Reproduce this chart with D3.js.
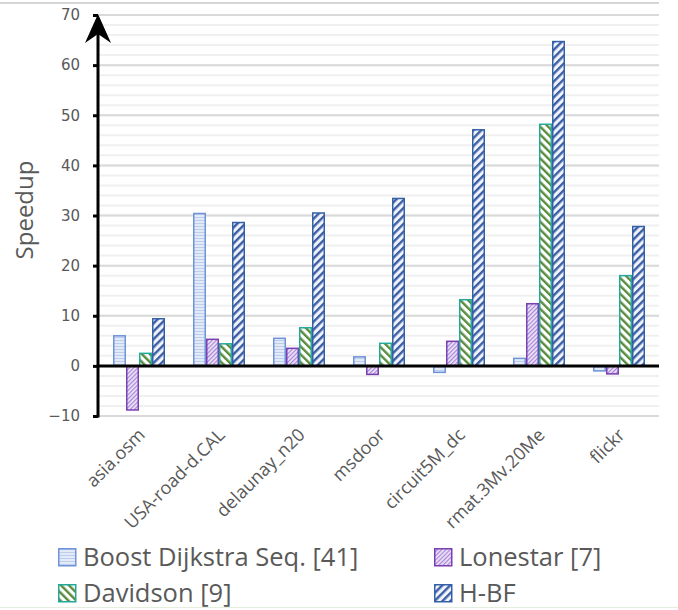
<!DOCTYPE html>
<html>
<head>
<meta charset="utf-8">
<script src="https://cdn.jsdelivr.net/npm/d3@7"></script>
<style>
  body { margin: 0; background: #fff; }
  svg { display: block; }
  .y-axis text { font-family: "DejaVu Sans", sans-serif; font-size: 15px; fill: #595959; }
  .x-label { font-family: "Open Sans", sans-serif; font-size: 18px; fill: #595959; }
  .y-title { font-family: "Open Sans", sans-serif; font-size: 24px; fill: #595959; }
  .legend text { font-family: "Open Sans", sans-serif; font-size: 25.5px; fill: #595959; }
</style>
</head>
<body>
<div id="chart"></div>
<script>
// categories + one array per series
const categories = ['asia.osm', 'USA-road-d.CAL', 'delaunay_n20', 'msdoor', 'circuit5M_dc', 'rmat.3Mv.20Me', 'flickr'];
const seriesNames = ['Boost Dijkstra Seq. [41]', 'Lonestar [7]', 'Davidson [9]', 'H-BF'];
const boostValues = [6.0, 30.4, 5.5, 1.8, -1.3, 1.5, -1.0];
const lonestarValues = [-8.8, 5.3, 3.5, -1.7, 4.9, 12.4, -1.6];
const davidsonValues = [2.5, 4.4, 7.6, 4.5, 13.2, 48.2, 18.0];
const hbfValues = [9.4, 28.6, 30.5, 33.4, 47.1, 64.7, 27.8];
const yTicks = [-10, 0, 10, 20, 30, 40, 50, 60, 70];
const yMinorTicks = [-10, -8, -6, -4, -2, 0, 2, 4, 6, 8, 10, 12, 14, 16, 18, 20, 22, 24, 26, 28,
  30, 32, 34, 36, 38, 40, 42, 44, 46, 48, 50, 52, 54, 56, 58, 60, 62, 64, 66, 68, 70];

// look of each series (same order as seriesNames)
const seriesStyles = [
  { id: 'pat-boost', stroke: '#6f93d8' },
  { id: 'pat-lone', stroke: '#7a3fb0' },
  { id: 'pat-dav', stroke: '#22a99b' },
  { id: 'pat-hbf', stroke: '#3560a8' },
];

class GroupedBarChart {
  constructor(_config) {
    this.config = {
      parentElement: _config.parentElement,
      containerWidth: 678,
      containerHeight: 610,
      plotLeft: 99,
      plotRight: 659,
      plotTop: 15,
      plotBottom: 416,
    };
    this.initVis();
  }

  initVis() {
    const vis = this;
    const c = vis.config;

    vis.svg = d3.select(c.parentElement).append('svg')
      .attr('width', c.containerWidth)
      .attr('height', c.containerHeight);

    vis.makePatterns();

    // frame lines of the screenshot
    vis.svg.append('line')
      .attr('x1', 0).attr('x2', c.plotRight).attr('y1', 3).attr('y2', 3)
      .attr('stroke', '#c8c8c8').attr('stroke-width', 1.5);
    vis.svg.append('line')
      .attr('x1', 0).attr('x2', c.containerWidth).attr('y1', 607.5).attr('y2', 607.5)
      .attr('stroke', '#e3efdc').attr('stroke-width', 1);

    vis.xScale = d3.scaleBand()
      .domain(categories)
      .range([c.plotLeft, c.plotRight])
      .paddingInner(0.35)
      .paddingOuter(0.175);
    vis.xInner = d3.scaleBand()
      .domain(seriesNames)
      .range([0, vis.xScale.bandwidth()]);
    vis.yScale = d3.scaleLinear()
      .domain([-10, 70])
      .range([c.plotBottom, c.plotTop]);

    vis.gridGroup = vis.svg.append('g').attr('class', 'grid');
    vis.barGroup = vis.svg.append('g').attr('class', 'bars');
    vis.axisGroup = vis.svg.append('g').attr('class', 'y-axis')
      .attr('transform', `translate(${c.plotLeft - 1},0)`);
    vis.labelGroup = vis.svg.append('g').attr('class', 'x-labels');
    vis.legendGroup = vis.svg.append('g').attr('class', 'legend');

    vis.updateVis();
  }

  makePatterns() {
    const vis = this;
    const defs = vis.svg.append('defs');

    // horizontal pinstripes
    const pb = defs.append('pattern').attr('id', 'pat-boost')
      .attr('patternUnits', 'userSpaceOnUse').attr('width', 4).attr('height', 3);
    pb.append('rect').attr('width', 4).attr('height', 3).attr('fill', '#e2e9f7');
    pb.append('rect').attr('y', 1).attr('width', 4).attr('height', 1).attr('fill', '#bfcdec');

    // fine "/" hatch
    const pl = defs.append('pattern').attr('id', 'pat-lone')
      .attr('patternUnits', 'userSpaceOnUse').attr('width', 3).attr('height', 3)
      .attr('patternTransform', 'rotate(45)');
    pl.append('rect').attr('width', 3).attr('height', 3).attr('fill', '#eee5f8');
    pl.append('rect').attr('width', 1.2).attr('height', 3).attr('fill', '#a783d8');

    // wide "\" stripes
    const pd = defs.append('pattern').attr('id', 'pat-dav')
      .attr('patternUnits', 'userSpaceOnUse').attr('width', 5.6).attr('height', 5.6)
      .attr('patternTransform', 'rotate(-45)');
    pd.append('rect').attr('width', 5.6).attr('height', 5.6).attr('fill', '#ffffff');
    pd.append('rect').attr('width', 2.4).attr('height', 5.6).attr('fill', '#5a8a3a');

    // wide "/" stripes
    const ph = defs.append('pattern').attr('id', 'pat-hbf')
      .attr('patternUnits', 'userSpaceOnUse').attr('width', 5.6).attr('height', 5.6)
      .attr('patternTransform', 'rotate(45)');
    ph.append('rect').attr('width', 5.6).attr('height', 5.6).attr('fill', '#f1f3f9');
    ph.append('rect').attr('width', 2.4).attr('height', 5.6).attr('fill', '#3a5ea6');
  }

  updateVis() {
    const vis = this;
    const allValues = [boostValues, lonestarValues, davidsonValues, hbfValues];

    vis.barData = [];
    categories.forEach((cat, i) => {
      seriesNames.forEach((s, j) => {
        vis.barData.push({ cat: cat, series: s, idx: j, value: allValues[j][i] });
      });
    });

    vis.renderVis();
  }

  renderVis() {
    const vis = this;
    const c = vis.config;
    const y = vis.yScale;

    // minor + major gridlines
    vis.gridGroup.selectAll('.minor')
        .data(yMinorTicks)
      .join('line')
        .attr('class', 'minor')
        .attr('x1', c.plotLeft).attr('x2', c.plotRight)
        .attr('y1', d => y(d)).attr('y2', d => y(d))
        .attr('stroke', '#f0f0f0').attr('stroke-width', 2);
    vis.gridGroup.selectAll('.major')
        .data(yTicks)
      .join('line')
        .attr('class', 'major')
        .attr('x1', c.plotLeft).attr('x2', c.plotRight)
        .attr('y1', d => y(d)).attr('y2', d => y(d))
        .attr('stroke', '#d9d9d9').attr('stroke-width', 2);

    // bars
    vis.barGroup.selectAll('rect')
        .data(vis.barData)
      .join('rect')
        .attr('x', d => vis.xScale(d.cat) + vis.xInner(d.series) + 0.75)
        .attr('width', vis.xInner.bandwidth() - 1.5)
        .attr('y', d => y(Math.max(0, d.value)))
        .attr('height', d => Math.abs(y(d.value) - y(0)))
        .attr('fill', d => `url(#${seriesStyles[d.idx].id})`)
        .attr('stroke', d => seriesStyles[d.idx].stroke)
        .attr('stroke-width', 1.5);

    // zero line
    vis.svg.append('line')
      .attr('x1', c.plotLeft - 2).attr('x2', c.plotRight)
      .attr('y1', y(0)).attr('y2', y(0))
      .attr('stroke', '#000').attr('stroke-width', 3);

    // y axis with ticks, then the arrow line on top
    vis.axisGroup.call(d3.axisLeft(y).tickValues(yTicks).tickSize(5).tickPadding(13));
    vis.axisGroup.select('.domain').remove();
    vis.axisGroup.selectAll('.tick line').attr('stroke', '#000').attr('stroke-width', 3);
    vis.axisGroup.append('line')
      .attr('x1', 0).attr('x2', 0)
      .attr('y1', y(-10) + 1.5).attr('y2', y(70) + 12)
      .attr('stroke', '#000').attr('stroke-width', 3);
    vis.axisGroup.append('path')
      .attr('d', `M0,${y(70) - 1}L-13,${y(70) + 28}L0,${y(70) + 19}L13,${y(70) + 28}Z`)
      .attr('fill', '#000');

    // axis title
    vis.svg.append('text')
      .attr('class', 'y-title')
      .attr('transform', `translate(33,210) rotate(-90)`)
      .attr('text-anchor', 'middle')
      .text('Speedup');

    // rotated category labels
    vis.labelGroup.selectAll('text')
        .data(categories)
      .join('text')
        .attr('class', 'x-label')
        .attr('text-anchor', 'end')
        .attr('transform', d => `translate(${vis.xScale(d) + vis.xScale.bandwidth() / 2 + 7},${c.plotBottom + 20}) rotate(-45)`)
        .text(d => d);

    // legend, 2 columns
    const colX = [58, 434];
    const rowY = [548, 584];
    const items = vis.legendGroup.selectAll('g')
        .data(seriesNames)
      .join('g')
        .attr('transform', (d, i) => `translate(${colX[i % 2]},${rowY[Math.floor(i / 2)]})`);
    items.append('rect')
      .attr('x', 0.75).attr('y', 0.75)
      .attr('width', 17).attr('height', 17)
      .attr('fill', (d, i) => `url(#${seriesStyles[i].id})`)
      .attr('stroke', (d, i) => seriesStyles[i].stroke)
      .attr('stroke-width', 1.5);
    items.append('text')
      .attr('x', 25)
      .attr('y', 18)
      .text(d => d);
  }
}

const chart = new GroupedBarChart({ parentElement: '#chart' });
</script>
</body>
</html>
